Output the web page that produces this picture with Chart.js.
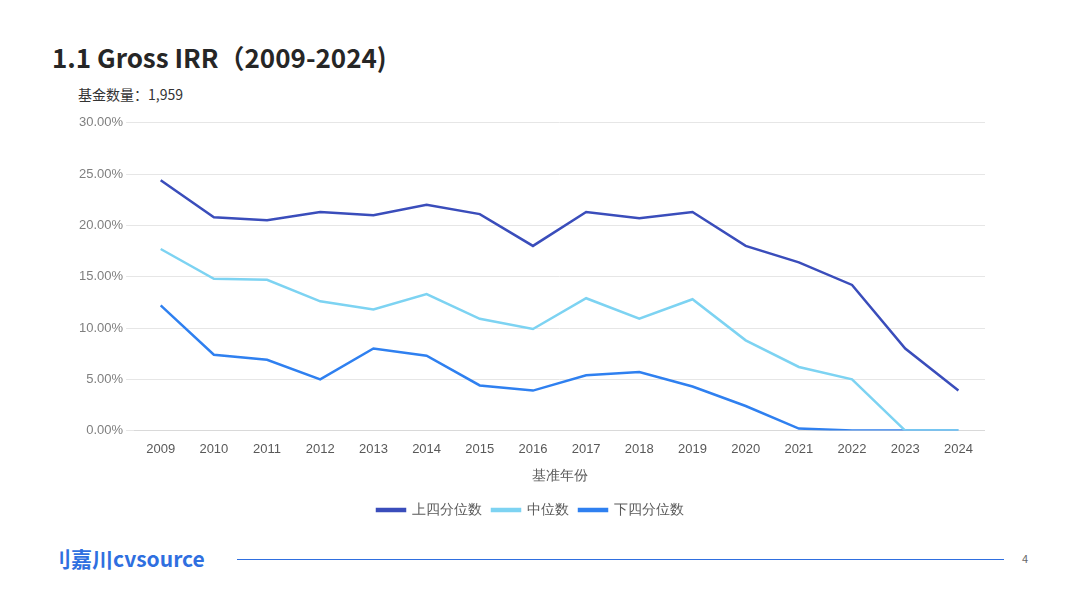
<!DOCTYPE html>
<html lang="zh">
<head>
<meta charset="UTF-8">
<script src="https://cdn.jsdelivr.net/npm/chart.js"></script>
<style>
  body { margin: 0; width: 1067px; height: 600px; background: #fff; font-family: "Noto Sans CJK SC", "Noto Sans", sans-serif; position: relative; overflow: hidden; }
  .title { position: absolute; left: 52px; top: 38px; font-size: 26px; font-weight: bold; color: #262626; }
  .count { position: absolute; left: 78px; top: 84px; font-size: 14px; color: #333; }
  .chart-box { position: absolute; left: 76px; top: 112px; width: 909px; height: 415px; }
  .logo { position: absolute; left: 50px; top: 543px; font-size: 21px; font-weight: bold; color: #2f6fe0; }
  .rule { position: absolute; left: 237px; top: 559px; width: 767px; height: 1px; background: #2f6fe0; }
  .page { position: absolute; left: 1022px; top: 550px; font-size: 11px; color: #666; }
</style>
</head>
<body>
<div class="title">1.1 Gross IRR（2009-2024)</div>
<div class="count">基金数量：1,959</div>
<div class="chart-box"><canvas id="chart"></canvas></div>
<div class="logo">刂嘉川cvsource</div>
<div class="rule"></div>
<div class="page">4</div>
<script>
const years = ['2009','2010','2011','2012','2013','2014','2015','2016','2017','2018','2019','2020','2021','2022','2023','2024'];
const upperQuartile = [24.4, 20.8, 20.5, 21.3, 21.0, 22.0, 21.1, 18.0, 21.3, 20.7, 21.3, 18.0, 16.4, 14.2, 8.0, 3.9];
const median = [17.7, 14.8, 14.7, 12.6, 11.8, 13.3, 10.9, 9.9, 12.9, 10.9, 12.8, 8.8, 6.2, 5.0, 0, 0];
const lowerQuartile = [12.2, 7.4, 6.9, 5.0, 8.0, 7.3, 4.4, 3.9, 5.4, 5.7, 4.3, 2.4, 0.2, 0, 0, 0];

function series(label, data, color) {
  return { label: label, data: data, borderColor: color, backgroundColor: color, borderWidth: 2.5, pointRadius: 0, tension: 0 };
}

new Chart(document.getElementById('chart'), {
  type: 'line',
  data: {
    labels: years,
    datasets: [
      series('上四分位数', upperQuartile, '#3a4dbb'),
      series('中位数', median, '#7dd3f2'),
      series('下四分位数', lowerQuartile, '#2f80f0')
    ]
  },
  options: {
    responsive: true,
    maintainAspectRatio: false,
    animation: false,
    plugins: {
      legend: {
        position: 'bottom',
        labels: { boxWidth: 28, boxHeight: 2, color: '#595959', font: { size: 14 } }
      },
      tooltip: { enabled: false }
    },
    scales: {
      x: {
        offset: true,
        grid: { display: false },
        border: { color: '#d9d9d9' },
        ticks: { color: '#595959', font: { size: 13 } },
        title: { display: true, text: '基准年份', color: '#595959', font: { size: 14 }, padding: { top: 8, bottom: 8 } }
      },
      y: {
        min: 0, max: 30,
        grid: { color: '#e6e6e6' },
        border: { display: false },
        ticks: { stepSize: 5, color: '#7f7f7f', font: { size: 13 }, callback: v => v.toFixed(2) + '%' }
      }
    }
  }
});
</script>
</body>
</html>
